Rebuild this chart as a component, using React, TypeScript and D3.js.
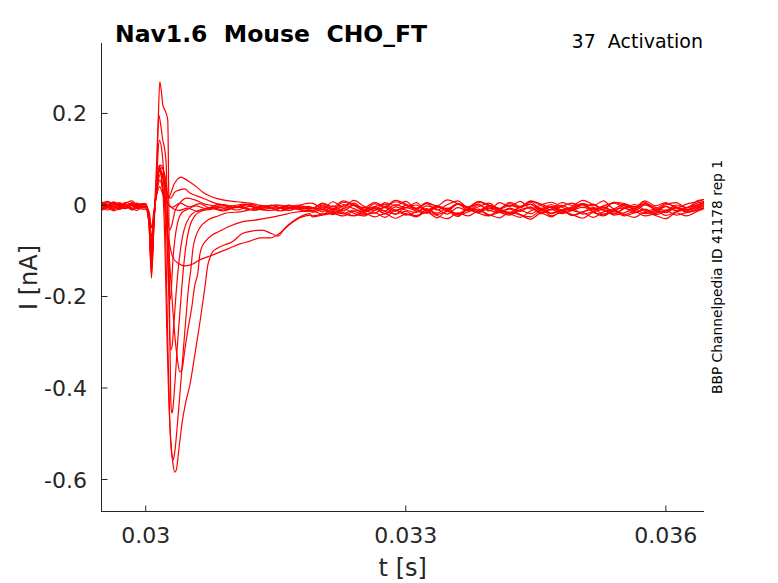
import React from "react";
import * as d3 from "d3";

const W = 778;
const H = 583;

// time axis domain (s) and current axis domain (nA)
const xDomain = [0.02949, 0.03644];
const yDomain = [-0.671, 0.354];
const xTicks = [0.03, 0.033, 0.036];
const xTickLabels = ["0.03", "0.033", "0.036"];
const yTicks = [0.2, 0, -0.2, -0.4, -0.6];
const yTickLabels = ["0.2", "0", "-0.2", "-0.4", "-0.6"];

// sample times (ms) of the pre-step baseline and of the late tail
const preTimes = [29.49, 29.56, 29.63, 29.7, 29.77, 29.84, 29.9, 29.96];
const tailTimes = [31.92, 32.04, 32.16, 32.28, 32.4, 32.52, 32.64, 32.76, 32.88, 33.0, 33.12, 33.24, 33.36, 33.48, 33.6, 33.72, 33.84, 33.96, 34.08, 34.2, 34.32, 34.44, 34.56, 34.68, 34.8, 34.92, 35.04, 35.16, 35.28, 35.4, 35.52, 35.64, 35.76, 35.88, 36.0, 36.12, 36.24, 36.36, 36.44];

// baseline current before the step (pA), one row per sweep
const preValues = [
  [-2, 6, -5, 3, -8, 1, -4, 2],
  [5, -3, 4, -6, 2, -5, 3, -2],
  [-8, -2, -10, -4, 0, -9, -3, -6],
  [1, -7, -1, 5, -4, 3, -6, 0],
  [-12, -6, -13, -8, -3, -11, -7, -9],
  [3, 8, 1, -2, 6, 0, 4, -3],
  [-5, 0, -8, 2, -3, -9, -1, -4],
  [7, 2, 6, -1, 4, 9, 1, 3],
  [-10, -4, -2, -9, -6, -1, -8, -5],
  [0, -5, 3, -3, -8, 2, -2, -6],
  [-6, -11, -4, -9, -2, -7, -12, -3],
  [4, -1, 7, 1, -4, 5, 0, 2],
];

// transient part of each sweep: [time ms, current pA]
const transientPoints: [number, number][][] = [
  [[30.0,-3],[30.04,-15],[30.066,-50],[30.095,-12],[30.127,22],[30.16,40],[30.2,22],[30.25,4],[30.3,-5],[30.4,4],[30.5,-4],[30.62,3],[30.75,-7],[30.9,1],[31.05,-6],[31.2,2],[31.35,-7],[31.5,0],[31.65,-8],[31.8,1]],
  [[30.0,-4],[30.04,-22],[30.066,-70],[30.095,-18],[30.13,30],[30.165,55],[30.2,30],[30.25,6],[30.3,-6],[30.38,-12],[30.48,-7],[30.6,-14],[30.75,-5],[30.9,-11],[31.05,-3],[31.2,-10],[31.35,-2],[31.5,-9],[31.65,0],[31.8,-7]],
  [[30.0,-6],[30.04,-30],[30.066,-95],[30.095,-25],[30.13,35],[30.17,68],[30.2,62],[30.22,22],[30.243,-44],[30.277,-87],[30.312,-114],[30.37,-127],[30.451,-133],[30.543,-129],[30.624,-120],[30.705,-114],[30.775,-109],[30.855,-103],[30.971,-94],[31.087,-85],[31.202,-79],[31.318,-72],[31.434,-72],[31.549,-61],[31.665,-42],[31.78,-28],[31.896,-22]],
  [[30.0,0],[30.04,-32],[30.066,-105],[30.095,-28],[30.13,40],[30.162,77],[30.197,33],[30.231,-22],[30.266,-98],[30.301,-197],[30.335,-284],[30.37,-343],[30.393,-365],[30.416,-361],[30.451,-317],[30.486,-273],[30.532,-223],[30.566,-175],[30.601,-149],[30.624,-109],[30.647,-92],[30.682,-81],[30.763,-66],[30.832,-59],[30.948,-48],[31.11,-37],[31.26,-33],[31.41,-28],[31.572,-22],[31.688,-17],[31.896,-13]],
  [[30.0,-9],[30.04,-38],[30.066,-120],[30.095,-32],[30.13,42],[30.162,80],[30.197,33],[30.22,-77],[30.243,-273],[30.266,-426],[30.289,-514],[30.312,-562],[30.335,-584],[30.353,-579],[30.382,-535],[30.416,-481],[30.462,-431],[30.509,-394],[30.566,-328],[30.624,-258],[30.682,-181],[30.717,-131],[30.74,-116],[30.763,-105],[30.832,-94],[30.913,-87],[30.994,-81],[31.11,-63],[31.225,-57],[31.341,-55],[31.457,-63],[31.526,-68],[31.607,-50],[31.688,-37],[31.78,-26],[31.896,-19]],
  [[30.0,-3],[30.04,-45],[30.066,-140],[30.095,-38],[30.127,60],[30.156,142],[30.185,120],[30.208,66],[30.231,-77],[30.254,-295],[30.277,-470],[30.301,-546],[30.318,-557],[30.335,-540],[30.37,-470],[30.416,-361],[30.462,-251],[30.497,-175],[30.52,-142],[30.543,-98],[30.578,-68],[30.624,-50],[30.717,-33],[30.832,-24],[30.948,-17],[31.087,-15],[31.26,-9],[31.434,-12],[31.607,-6],[31.78,-10]],
  [[30.0,-4],[30.04,-50],[30.066,-160],[30.095,-45],[30.127,66],[30.145,186],[30.162,269],[30.179,251],[30.197,219],[30.231,203],[30.254,186],[30.266,11],[30.277,-273],[30.289,-426],[30.301,-455],[30.312,-448],[30.335,-394],[30.37,-295],[30.405,-208],[30.439,-131],[30.474,-77],[30.509,-46],[30.566,-24],[30.647,-13],[30.763,-9],[30.9,-4],[31.05,-11],[31.2,-3],[31.35,-10],[31.5,-5],[31.65,-12],[31.8,-4]],
  [[30.0,3],[30.04,-46],[30.066,-150],[30.095,-40],[30.127,98],[30.15,197],[30.173,175],[30.197,142],[30.22,120],[30.237,87],[30.254,-55],[30.272,-251],[30.289,-317],[30.306,-306],[30.324,-262],[30.358,-175],[30.393,-109],[30.428,-66],[30.474,-37],[30.532,-20],[30.624,-11],[30.74,-7],[30.9,-13],[31.05,-4],[31.2,-10],[31.35,-2],[31.5,-9],[31.65,-1],[31.8,-8]],
  [[30.0,-5],[30.04,-40],[30.066,-130],[30.095,-35],[30.139,66],[30.156,87],[30.173,77],[30.197,59],[30.22,33],[30.243,-55],[30.26,-164],[30.277,-208],[30.295,-186],[30.312,-125],[30.335,-77],[30.37,-37],[30.416,-17],[30.486,-9],[30.578,-2],[30.7,-8],[30.85,2],[31.0,-6],[31.15,1],[31.3,-8],[31.45,-1],[31.6,-9],[31.75,-3],[31.88,-10]],
  [[30.0,-6],[30.04,-34],[30.066,-110],[30.095,-30],[30.15,77],[30.173,87],[30.208,72],[30.231,44],[30.254,-22],[30.277,-55],[30.301,-44],[30.335,-15],[30.393,4],[30.474,15],[30.566,11],[30.682,2],[30.798,-2],[30.95,-9],[31.1,-3],[31.25,-12],[31.4,-5],[31.55,-13],[31.7,-6],[31.85,-14]],
  [[30.0,-3],[30.04,-28],[30.066,-90],[30.095,-25],[30.15,72],[30.185,81],[30.22,66],[30.254,22],[30.289,15],[30.335,28],[30.393,33],[30.451,35],[30.509,26],[30.59,20],[30.682,13],[30.798,4],[30.971,-2],[31.145,2],[31.318,-7],[31.45,-1],[31.6,-8],[31.75,0],[31.88,-6]],
  [[30.0,2],[30.04,-25],[30.066,-80],[30.095,-22],[30.139,59],[30.162,77],[30.197,66],[30.231,33],[30.254,15],[30.277,20],[30.324,44],[30.37,57],[30.405,61],[30.451,57],[30.509,50],[30.59,39],[30.659,28],[30.775,17],[30.89,11],[31.052,7],[31.202,4],[31.376,-2],[31.549,0],[31.723,-7],[31.88,-3]],
];

// late tail current (pA) on tailTimes, one row per sweep
const tailValues = [
  [4,-9,7,-5,10,-3,-12,5,-2,8,-8,3,-11,1,9,-6,2,-13,5,-3,8,-9,0,6,-5,-12,3,-2,9,-8,2,-5,6,-10,1,5,-6,9,12],
  [-6,-15,-2,-13,0,-11,-18,-4,-14,-1,-9,-17,-3,-12,2,-8,-16,-2,-11,-19,-5,1,-13,-4,-17,-9,0,-14,-5,-18,-7,1,-11,-15,-3,-12,-6,0,5],
  [-24,-20,-17,-19,-11,-16,-8,-14,-20,-6,-13,-18,-5,-11,-19,-8,-15,-4,-13,-20,-10,-6,-17,-9,-19,-12,-5,-15,-22,-10,-7,-17,-9,-18,-12,-5,-15,-8,-2],
  [-16,-10,-21,-8,-18,-24,-12,-6,-20,-14,-25,-10,-18,-7,-22,-15,-9,-23,-12,-19,-27,-13,-7,-18,-10,-23,-15,-8,-20,-12,-24,-17,-10,-21,-14,-7,-16,-11,-6],
  [-26,-22,-19,-24,-14,-21,-17,-27,-12,-19,-23,-15,-28,-13,-21,-10,-18,-24,-15,-9,-21,-26,-13,-19,-12,-23,-17,-27,-15,-10,-21,-14,-24,-18,-12,-22,-16,-11,-6],
  [-13,-2,-10,1,-8,-14,-4,2,-11,-6,0,-13,-3,-10,3,-6,-12,-1,-8,-16,-4,2,-10,-3,-13,-6,1,-11,-4,-14,-1,-8,2,-10,-3,-13,-6,-1,4],
  [-7,3,-8,6,-1,-11,3,-5,7,0,-10,4,-3,-12,2,-6,6,-2,-8,3,-5,8,-1,-11,-3,4,-6,2,-10,6,-2,-8,3,-5,-12,0,-6,4,8],
  [-8,4,-4,9,1,-6,6,-3,10,2,-7,5,-2,11,3,-4,8,0,-8,6,-3,9,2,-6,5,-1,10,1,-7,6,3,-4,9,-2,5,-6,2,7,12],
  [-12,-5,-17,-8,-1,-14,-7,-19,-4,-11,-16,-2,-9,-20,-6,-12,0,-11,-17,-7,-14,-4,-19,-9,-1,-12,-16,-6,-11,-20,-8,-3,-14,-9,-17,-5,-12,-4,1],
  [-13,-20,-9,-17,-23,-12,-6,-19,-11,-22,-15,-8,-21,-14,-25,-10,-17,-7,-16,-22,-12,-19,-9,-24,-14,-8,-20,-15,-10,-22,-17,-9,-19,-12,-23,-15,-10,-6,-2],
  [-8,0,-12,-2,4,-9,-4,-13,1,-6,5,-11,-2,-8,3,-12,-4,4,-9,-1,-6,6,-8,1,-11,-4,3,-9,-2,4,-6,-12,0,-7,3,-4,-10,-1,4],
  [-6,-10,-14,-19,-24,-18,-26,-19,-29,-20,-26,-15,-23,-30,-17,-24,-13,-21,-28,-16,-22,-31,-18,-26,-14,-21,-29,-17,-24,-13,-20,-27,-16,-23,-30,-17,-24,-14,-8],
];

const FONT = "DejaVu Sans, sans-serif";
const AX = "#262626";
const PRE: React.CSSProperties = { whiteSpace: "pre" };

export default function App() {
  const left = 101.5;
  const right = 704;
  const top = 43;
  const bottom = 511.5;
  const x = d3.scaleLinear().domain(xDomain).range([left, right]);
  const y = d3.scaleLinear().domain(yDomain).range([512, top]);

  const line = d3
    .line<[number, number]>()
    .x((d) => x(d[0] / 1000))
    .y((d) => y(d[1] / 1000))
    .curve(d3.curveMonotoneX);

  const sweeps: [number, number][][] = preValues.map((pre, i) => [
    ...pre.map((v, j) => [preTimes[j], v] as [number, number]),
    ...transientPoints[i],
    ...tailValues[i].slice(0, tailTimes.length).map((v, j) => [tailTimes[j], v] as [number, number]),
  ]);

  return (
    <svg
      width={W}
      height={H}
      viewBox={`0 0 ${W} ${H}`}
      style={{ position: "absolute", left: 0, top: 0, display: "block", background: "#fff" }}
    >
      <rect x={0} y={0} width={W} height={H} fill="#fff" />
      <g>
        {sweeps.map((s, i) => (
          <path key={i} d={line(s) || ""} fill="none" stroke="#ff0000" strokeWidth={1.2} strokeLinejoin="round" />
        ))}
      </g>
      {/* axes */}
      <line x1={left} x2={left} y1={top} y2={bottom + 0.5} stroke={AX} strokeWidth={1} shapeRendering="crispEdges" />
      <line x1={left - 0.5} x2={right} y1={bottom} y2={bottom} stroke={AX} strokeWidth={1} shapeRendering="crispEdges" />
      {xTicks.map((t, i) => (
        <g key={"xt" + i}>
          <line x1={x(t)} x2={x(t)} y1={bottom} y2={bottom - 6} stroke={AX} strokeWidth={1} />
          <text x={x(t)} y={543} textAnchor="middle" fontFamily={FONT} fontSize={22} fill={AX}>
            {xTickLabels[i]}
          </text>
        </g>
      ))}
      {yTicks.map((t, i) => (
        <g key={"yt" + i}>
          <line x1={left} x2={left + 6} y1={y(t)} y2={y(t)} stroke={AX} strokeWidth={1} />
          <text x={87} y={y(t) + 8} textAnchor="end" fontFamily={FONT} fontSize={22} fill={AX}>
            {yTickLabels[i]}
          </text>
        </g>
      ))}
      <text x={(left + right) / 2} y={576} textAnchor="middle" fontFamily={FONT} fontSize={24} fill={AX}>
        t [s]
      </text>
      <text
        transform={`translate(37, ${(top + 512) / 2}) rotate(-90)`}
        textAnchor="middle"
        fontFamily={FONT}
        fontSize={24}
        fill={AX}
      >
        I [nA]
      </text>
      <text x={115} y={42} fontFamily={FONT} fontSize={23.5} fontWeight="bold" fill="#000" style={PRE}>
        {"Nav1.6  Mouse  CHO_FT"}
      </text>
      <text x={703} y={48} textAnchor="end" fontFamily={FONT} fontSize={19} fill="#000" style={PRE}>
        {"37  Activation"}
      </text>
      <text
        transform={`translate(722, 277) rotate(-90)`}
        textAnchor="middle"
        fontFamily={FONT}
        fontSize={13.8}
        fill="#000"
      >
        BBP Channelpedia ID 41178 rep 1
      </text>
    </svg>
  );
}
